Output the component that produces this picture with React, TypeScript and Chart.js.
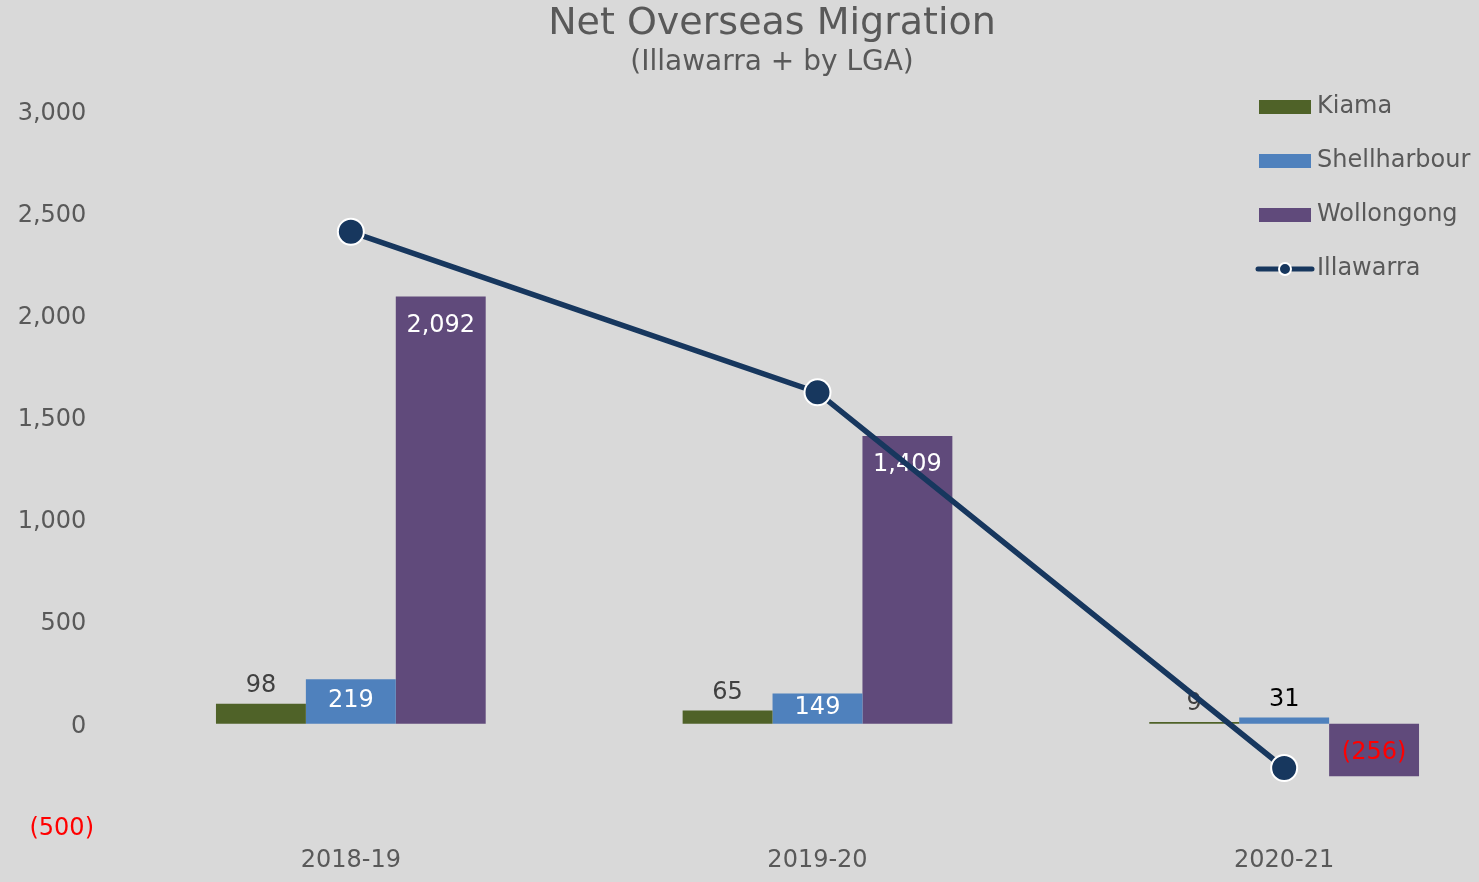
import React, { useEffect, useRef } from 'react';
import { Chart, registerables } from 'chart.js';

Chart.register(...registerables);

const categories = ['2018-19', '2019-20', '2020-21'];
const seriesNames = ['Kiama', 'Shellharbour', 'Wollongong', 'Illawarra'];
const kiama = [98, 65, 9];
const shellharbour = [219, 149, 31];
const wollongong = [2092, 1409, -256];
const illawarra = [2409, 1623, -216];
const yMin = -500;
const yMax = 3000;
const yStep = 500;

const colors = ['#4F6228', '#4F81BD', '#604A7B', '#17375E'];
const FONT = '"DejaVu Sans", Verdana, sans-serif';
const TEXT = '#595959';

const fmt = (v: number) =>
  v < 0 ? `(${Math.abs(v).toLocaleString('en-US')})` : v.toLocaleString('en-US');

function rectIcon(color: string) {
  const c = document.createElement('canvas');
  c.width = 52;
  c.height = 14;
  const g = c.getContext('2d')!;
  g.fillStyle = color;
  g.fillRect(0, 0, 52, 14);
  return c;
}

function lineIcon(color: string) {
  const c = document.createElement('canvas');
  c.width = 60;
  c.height = 22;
  const g = c.getContext('2d')!;
  g.strokeStyle = color;
  g.lineWidth = 5;
  g.lineCap = 'round';
  g.beginPath();
  g.moveTo(3, 11);
  g.lineTo(57, 11);
  g.stroke();
  g.beginPath();
  g.arc(30, 11, 6, 0, Math.PI * 2);
  g.fillStyle = color;
  g.fill();
  g.strokeStyle = '#FFFFFF';
  g.lineWidth = 2;
  g.stroke();
  return c;
}

const barLabels = {
  id: 'barLabels',
  afterDatasetDraw(chart: any, args: any) {
    const i = args.index;
    if (i > 2) return;
    const ctx = chart.ctx;
    const values = chart.data.datasets[i].data as number[];
    ctx.save();
    ctx.font = `24px ${FONT}`;
    ctx.textAlign = 'center';
    ctx.textBaseline = 'middle';
    args.meta.data.forEach((el: any, j: number) => {
      const v = values[j];
      const { x, y, base } = el.getProps(['x', 'y', 'base'], true);
      const h = Math.abs(base - y);
      let ty: number;
      let color: string;
      if (i === 0) {
        ty = y - 18;
        color = '#404040';
      } else if (i === 1) {
        if (h > 30) {
          ty = (y + base) / 2 - 1;
          color = '#FFFFFF';
        } else {
          ty = y - 18;
          color = '#000000';
        }
      } else if (v >= 0) {
        ty = y + 29;
        color = '#FFFFFF';
      } else {
        ty = y - 23;
        color = '#FF0000';
      }
      ctx.fillStyle = color;
      ctx.fillText(fmt(v), x, ty);
    });
    ctx.restore();
  },
};

const moveLegend = {
  id: 'moveLegend',
  afterLayout(chart: any) {
    const l = chart.legend;
    if (!l) return;
    const w = l.width;
    l.left = 1235;
    l.right = 1235 + w;
    l.top = 65;
    l.bottom = 65 + 500;
  },
};

export default function App() {
  const ref = useRef<HTMLCanvasElement>(null);

  useEffect(() => {
    if (!ref.current) return;
    const icons = [rectIcon(colors[0]), rectIcon(colors[1]), rectIcon(colors[2]), lineIcon(colors[3])];
    const chart = new Chart(ref.current, {
      type: 'bar',
      data: {
        labels: categories,
        datasets: [
          { type: 'bar', label: seriesNames[0], data: kiama, backgroundColor: colors[0], order: 1 },
          { type: 'bar', label: seriesNames[1], data: shellharbour, backgroundColor: colors[1], order: 1 },
          { type: 'bar', label: seriesNames[2], data: wollongong, backgroundColor: colors[2], order: 1 },
          {
            type: 'line',
            label: seriesNames[3],
            data: illawarra,
            borderColor: colors[3],
            backgroundColor: colors[3],
            borderWidth: 5.5,
            pointRadius: 13,
            pointBorderWidth: 2,
            pointBorderColor: '#FFFFFF',
            pointBackgroundColor: colors[3],
            tension: 0,
            order: 0,
          } as any,
        ],
      },
      options: {
        responsive: false,
        animation: false,
        events: [],
        layout: { padding: { left: 0, right: 0, top: 0, bottom: 0 } },
        datasets: {
          bar: { categoryPercentage: 0.578, barPercentage: 1 },
        },
        scales: {
          x: {
            grid: { display: false, drawTicks: false },
            border: { display: false },
            ticks: { color: TEXT, font: { family: FONT, size: 24 }, padding: 20 },
            afterFit: (s: any) => {
              s.height = 56;
            },
          },
          y: {
            min: yMin,
            max: yMax,
            grid: { display: false, drawTicks: false },
            border: { display: false },
            ticks: {
              stepSize: yStep,
              padding: 23.5,
              labelOffset: 2.5,
              font: { family: FONT, size: 24 },
              color: (c: any) => (c.tick && c.tick.value < 0 ? '#FF0000' : TEXT),
              callback: (v: any) => (Number(v) < 0 ? fmt(Number(v)) : fmt(Number(v)) + ' '),
            },
            afterFit: (s: any) => {
              s.width = 117.5;
            },
          },
          yRight: {
            position: 'right',
            display: true,
            grid: { display: false, drawTicks: false },
            border: { display: false },
            ticks: { display: false },
            afterFit: (s: any) => {
              s.width = 26.5;
            },
          },
        },
        plugins: {
          title: {
            display: true,
            text: 'Net Overseas Migration',
            color: TEXT,
            font: { family: FONT, size: 38, weight: 'normal', lineHeight: 1 },
            padding: { top: 5, bottom: 0 },
          },
          subtitle: {
            display: true,
            text: '(Illawarra + by LGA)',
            color: TEXT,
            font: { family: FONT, size: 28, weight: 'normal' },
            padding: { top: 3, bottom: 31.5 },
          },
          legend: {
            position: 'chartArea' as any,
            align: 'start',
            labels: {
              usePointStyle: true,
              pointStyleWidth: 40,
              boxWidth: 40,
              boxHeight: 24,
              padding: 30,
              color: TEXT,
              font: { family: FONT, size: 24 },
              sort: (a: any, b: any) => a.datasetIndex - b.datasetIndex,
              generateLabels: (ch: any) => {
                const items = (Chart.defaults.plugins.legend.labels as any).generateLabels(ch);
                return items.map((it: any) => ({ ...it, pointStyle: icons[it.datasetIndex] }));
              },
            },
          },
          tooltip: { enabled: false },
        },
      },
      plugins: [barLabels, moveLegend],
    } as any);
    return () => chart.destroy();
  }, []);

  return (
    <div
      style={{
        position: 'absolute',
        left: 0,
        top: 0,
        width: 1479,
        height: 882,
        overflow: 'hidden',
        background: '#D9D9D9',
      }}
    >
      <canvas ref={ref} width={1544} height={882} style={{ display: 'block', width: 1544, height: 882 }} />
    </div>
  );
}
